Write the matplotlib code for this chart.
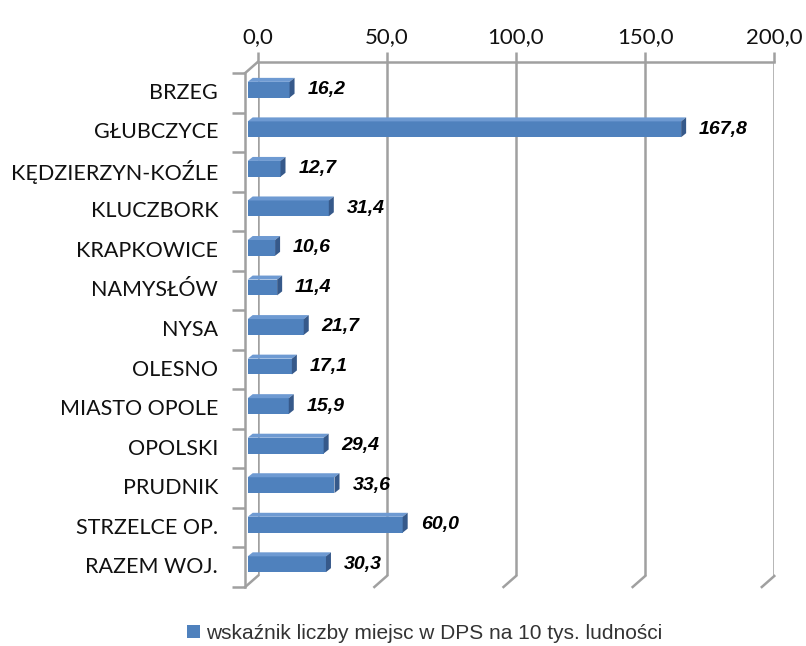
import matplotlib.pyplot as plt
import numpy as np
from matplotlib.patches import Polygon, Patch
from matplotlib.ticker import FuncFormatter

# powiaty woj. opolskiego
categories = [
    "BRZEG", "GŁUBCZYCE", "KĘDZIERZYN-KOŹLE", "KLUCZBORK", "KRAPKOWICE",
    "NAMYSŁÓW", "NYSA", "OLESNO", "MIASTO OPOLE", "OPOLSKI", "PRUDNIK",
    "STRZELCE OP.", "RAZEM WOJ.",
]
values = [16.2, 167.8, 12.7, 31.4, 10.6, 11.4, 21.7, 17.1, 15.9, 29.4, 33.6, 60.0, 30.3]
x_ticks = [0, 50, 100, 150, 200]
series_label = "wskaźnik liczby miejsc w DPS na 10 tys. ludności"

FRONT = "#4F81BD"
TOP = "#6E9AD2"
SIDE = "#36598A"
GRID = "#A0A0A0"

W, H = 806, 646
fig = plt.figure(figsize=(W / 100, H / 100), dpi=100)
# back wall of the 3d plot area
ax = fig.add_axes([257.7 / W, 1 - 576 / H, 516.6 / W, 514 / H])
n = len(categories)
ax.set_xlim(0, 200)
ax.set_ylim(n - 0.5, -0.5)

# pixels per data unit, used for the pseudo-3d depth offsets
ux = ax.bbox.width / 200
uy = ax.bbox.height / n

def px(dx, dy):
    # display pixel offset (dy positive = down) -> data offset
    return dx / ux, dy / uy

for s in ["left", "right", "bottom"]:
    ax.spines[s].set_visible(False)
ax.spines["top"].set_color(GRID)
ax.spines["top"].set_linewidth(1.8)
ax.xaxis.tick_top()
ax.set_xticks(x_ticks)
ax.xaxis.set_major_formatter(FuncFormatter(lambda v, p: f"{v:.1f}".replace(".", ",")))
ax.tick_params(axis="x", length=7, width=1.8, color=GRID, pad=4,
               labelsize=16, labelcolor="#111111")
for t in ax.get_xticklabels():
    t.set_fontfamily(["Lato", "DejaVu Sans"])
ax.set_yticks([])
ax.grid(axis="x", color=GRID, linewidth=1.8)
ax.set_axisbelow(True)

# front plane: left axis line, ticks and floor diagonals
fx, fy = px(-12.5, 11)
bounds = np.arange(n + 1) - 0.5
ax.plot([fx, fx], [bounds[0] + fy, bounds[-1] + fy], color=GRID, lw=1.8, clip_on=False)
tl, _ = px(-13, 0)
ax.hlines(bounds + fy, fx + tl, fx, color=GRID, lw=1.8, clip_on=False)
ax.plot([0, fx], [-0.5, -0.5 + fy], color=GRID, lw=1.8, clip_on=False)
for xt in x_ticks:
    ax.plot([xt, xt + fx], [n - 0.5, n - 0.5 + fy], color=GRID, lw=1.8, clip_on=False)

lx, _ = px(-27, 0)
for i, name in enumerate(categories):
    ax.text(fx + lx, i + fy, name, ha="right", va="center", fontsize=15.5,
            family=["Lato", "DejaVu Sans"], color="#111111")

# bars: front face plus top and side faces
bx, by = px(-10, 8)
dx, dy = px(5, -4)
h = 0.4
y = np.arange(n)
bars = ax.barh(y + by, values, left=bx, height=h, color=FRONT, zorder=3)
for b in bars:
    b.set_clip_on(False)
gx, _ = px(18, 0)
for i, v in enumerate(values):
    top = i + by - h / 2
    bot = i + by + h / 2
    x0, x1 = bx, bx + v
    ax.add_patch(Polygon([(x0, top), (x1, top), (x1 + dx, top + dy), (x0 + dx, top + dy)],
                         closed=True, facecolor=TOP, edgecolor="none", zorder=3, clip_on=False))
    ax.add_patch(Polygon([(x1, top), (x1, bot), (x1 + dx, bot + dy), (x1 + dx, top + dy)],
                         closed=True, facecolor=SIDE, edgecolor="none", zorder=3, clip_on=False))
    ax.text(x1 + gx, i + by, f"{v:.1f}".replace(".", ","), ha="left", va="center",
            fontsize=14, fontweight="bold", fontstyle="italic",
            family="Liberation Sans", color="black", zorder=4)

fig.legend(handles=[Patch(facecolor=FRONT, label=series_label)], loc="center",
           bbox_to_anchor=(0.527, 0.019), frameon=False, handlelength=0.6,
           handleheight=0.6, handletextpad=0.3,
           prop={"family": "Liberation Sans", "size": 15}, labelcolor="#333333")

fig.savefig("out.png", dpi=100, facecolor="white")
